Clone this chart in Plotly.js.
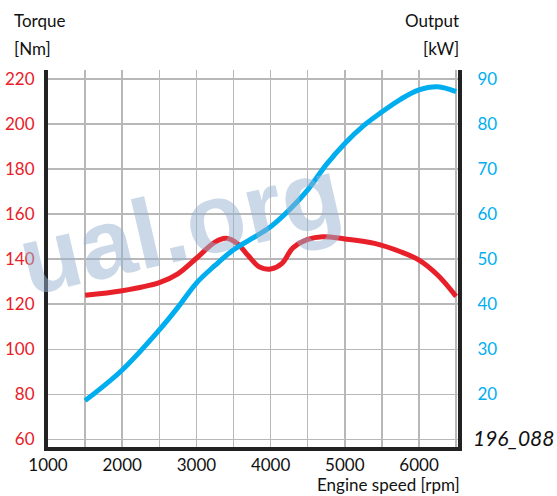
<!DOCTYPE html>
<html>
<head>
<meta charset="utf-8">
<script src="https://cdn.plot.ly/plotly-3.0.1.min.js"></script>
<style>html,body{margin:0;padding:0;background:#fff;}#chart{width:557px;height:496px;}</style>
</head>
<body>
<div id="chart"></div>
<script>
// Torque curve (Nm)
const torqueRpm = [1500, 2000, 2500, 2750, 3000, 3250, 3400, 3550, 3700, 3850, 4000, 4150, 4300, 4500, 4700, 5000, 5400, 5750, 6000, 6250, 6500];
const torqueNm  = [124, 126, 129.6, 133.5, 140.4, 147.6, 149.3, 147, 141.5, 136.5, 135.6, 138, 145, 148.8, 150, 149, 147, 143.3, 139.6, 133, 123.5];
// Output curve (kW)
const powerRpm = [1500, 2000, 2500, 2750, 3000, 3250, 3500, 3750, 4000, 4250, 4500, 4750, 5000, 5250, 5500, 5750, 6000, 6250, 6500];
const powerKw  = [18.6, 25.4, 34.3, 39.3, 44.7, 48.6, 52.1, 54.6, 57.2, 60.9, 65.4, 71, 75.7, 79.6, 82.7, 85.5, 87.6, 88.3, 87.2];
// Tick labels
const xTicks = [1000, 1500, 2000, 2500, 3000, 3500, 4000, 4500, 5000, 5500, 6000, 6500];
const xTickText = ['1000', '', '2000', '', '3000', '', '4000', '', '5000', '', '6000', ''];
const torqueTicks = [60, 80, 100, 120, 140, 160, 180, 200, 220];
const powerTicks = [20, 30, 40, 50, 60, 70, 80, 90];

const RED = '#e8202a', BLUE = '#00aeef';
const FONT = 'Lato, "Open Sans", sans-serif';

const traces = [
  {x: torqueRpm, y: torqueNm, type: 'scatter', mode: 'lines', yaxis: 'y',
   line: {color: RED, width: 5, shape: 'spline', smoothing: 1}, hoverinfo: 'skip'},
  {x: powerRpm, y: powerKw, type: 'scatter', mode: 'lines', yaxis: 'y2',
   line: {color: BLUE, width: 5, shape: 'spline', smoothing: 1}, hoverinfo: 'skip'}
];

const layout = {
  width: 557, height: 496,
  margin: {l: 48, r: 99, t: 70, b: 49},
  paper_bgcolor: '#fff', plot_bgcolor: '#fff',
  showlegend: false,
  font: {family: FONT, size: 17, color: '#111'},
  xaxis: {
    range: [1000, 6525], tickvals: xTicks, ticktext: xTickText,
    showgrid: true, gridcolor: '#b8b8b8', gridwidth: 1.5,
    showline: true, linecolor: '#222', linewidth: 4, zeroline: false,
    ticks: '', tickfont: {family: FONT, size: 17, color: '#111'}
  },
  yaxis: {
    range: [56.6, 224], tickvals: torqueTicks,
    showgrid: true, gridcolor: '#b8b8b8', gridwidth: 1.5,
    showline: true, linecolor: '#222', linewidth: 4, zeroline: false,
    ticks: '', ticklabelstandoff: 6, tickfont: {family: FONT, size: 17, color: RED}
  },
  yaxis2: {
    range: [8.3, 92], tickvals: powerTicks, overlaying: 'y', side: 'right',
    showgrid: false, showline: true, linecolor: '#222', linewidth: 4, zeroline: false,
    ticks: '', ticklabelstandoff: 12, tickfont: {family: FONT, size: 17, color: BLUE}
  },
  annotations: [
    {text: '<b>ual.org</b>', xref: 'paper', yref: 'paper', x: -42/410, y: 0.585, showarrow: false,
     textangle: -13, font: {family: 'Liberation Sans, Arial, sans-serif', size: 98, color: 'rgba(150,178,208,0.5)'},
     xanchor: 'left', yanchor: 'middle'},
    {text: 'Torque', xref: 'paper', yref: 'paper', x: -36/410, y: (447-20)/377, showarrow: false,
     xanchor: 'left', yanchor: 'middle', font: {family: FONT, size: 17, color: '#111'}},
    {text: '[Nm]', xref: 'paper', yref: 'paper', x: -36/410, y: (447-48)/377, showarrow: false,
     xanchor: 'left', yanchor: 'middle', font: {family: FONT, size: 17, color: '#111'}},
    {text: 'Output', xref: 'paper', yref: 'paper', x: (461-48)/410, y: (447-20)/377, showarrow: false,
     xanchor: 'right', yanchor: 'middle', font: {family: FONT, size: 17, color: '#111'}},
    {text: '[kW]', xref: 'paper', yref: 'paper', x: (461-48)/410, y: (447-48)/377, showarrow: false,
     xanchor: 'right', yanchor: 'middle', font: {family: FONT, size: 17, color: '#111'}},
    {text: 'Engine speed [rpm]', xref: 'paper', yref: 'paper', x: (462-48)/410, y: (447-484)/377, showarrow: false,
     xanchor: 'right', yanchor: 'middle', font: {family: FONT, size: 17, color: '#111'}},
    {text: '<i>196_088</i>', xref: 'paper', yref: 'paper', x: (471-48)/410, y: (447-437)/377, showarrow: false,
     xanchor: 'left', yanchor: 'middle', font: {family: FONT, size: 21, color: '#111'}}
  ]
};

Plotly.newPlot('chart', traces, layout, {staticPlot: true, displayModeBar: false});
</script>
</body>
</html>
